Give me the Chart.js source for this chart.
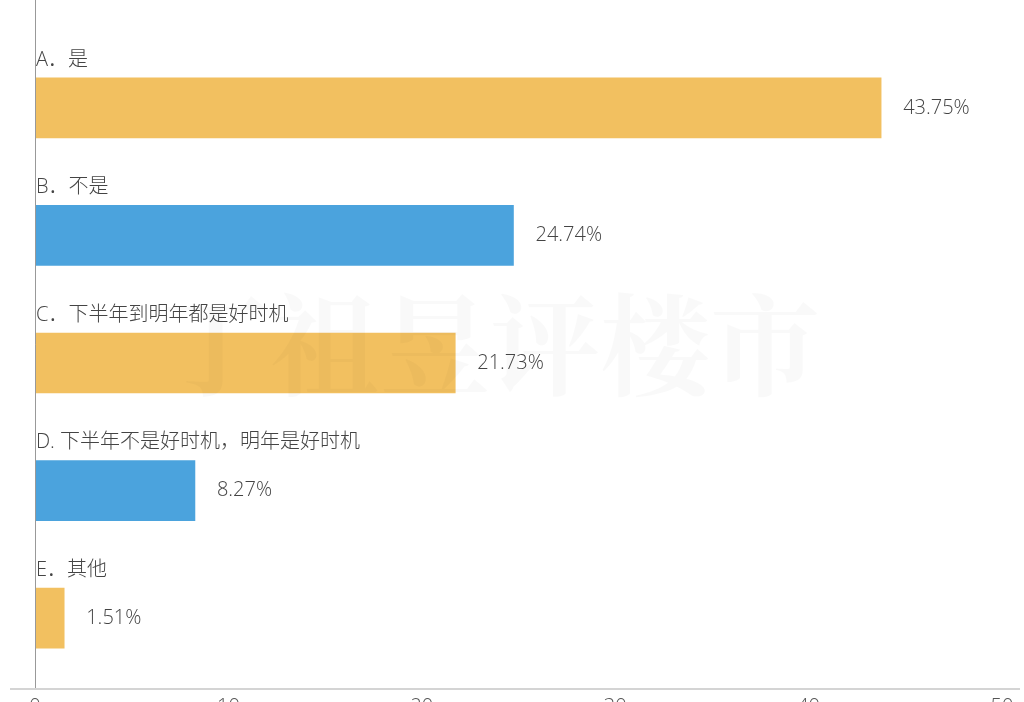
<!DOCTYPE html>
<html><head><meta charset="utf-8">
<script src="https://cdn.jsdelivr.net/npm/chart.js@4/dist/chart.umd.min.js"></script>
<style>html,body{margin:0;padding:0;background:#fff}#w{width:1024px;height:702px;position:relative}</style>
</head><body><div id="w"><canvas id="c"></canvas></div>
<script>
const categories = ["A．是","B．不是","C．下半年到明年都是好时机","D. 下半年不是好时机，明年是好时机","E．其他"];
const values = [43.75,24.74,21.73,8.27,1.51];
const valueLabels = ["43.75%","24.74%","21.73%","8.27%","1.51%"];
const colors = ["#F2C060","#4BA3DD","#F2C060","#4BA3DD","#F2C060"];
const xTicks = [0,10,20,30,40,50];

const font = '300 20px "Open Sans","Noto Sans CJK SC",sans-serif';
const overlay = {
  id:'overlay',
  afterDatasetsDraw(chart){
    const ctx = chart.ctx, ca = chart.chartArea, x = chart.scales.x;
    ctx.save();
    ctx.fillStyle='rgba(0,0,0,0.025)';
    ctx.font='bold 110px "Noto Serif CJK SC","Noto Sans CJK SC",serif';
    ctx.textBaseline='middle';ctx.textAlign='left';
    ctx.fillText('丁祖昱评楼市',160,345);
    ctx.strokeStyle='#999';ctx.lineWidth=1;
    ctx.beginPath();ctx.moveTo(ca.left+0.5,0);ctx.lineTo(ca.left+0.5,689);ctx.stroke();
    ctx.strokeStyle='#d4d4d4';ctx.lineWidth=2;
    ctx.beginPath();ctx.moveTo(10,689);ctx.lineTo(1020,689);ctx.stroke();
    const meta = chart.getDatasetMeta(0);
    ctx.fillStyle='#444';
    meta.data.forEach((bar,i)=>{
      ctx.font=font;ctx.textAlign='left';ctx.textBaseline='middle';
      ctx.fillText(categories[i], ca.left+1, bar.y-48);
      ctx.fillText(valueLabels[i], bar.x+22, bar.y);
    });
    ctx.fillStyle='#555';ctx.textAlign='center';ctx.textBaseline='top';ctx.font=font;
    xTicks.forEach(t=>ctx.fillText(String(t), x.getPixelForValue(t), 697));
    ctx.restore();
  }
};
new Chart(document.getElementById('c'),{
  type:'bar',
  data:{labels:categories,datasets:[{data:values,backgroundColor:colors,barThickness:60}]},
  options:{
    indexAxis:'y',responsive:true,maintainAspectRatio:false,animation:false,
    layout:{padding:{left:35,right:22,top:44,bottom:20}},
    plugins:{legend:{display:false},tooltip:{enabled:false}},
    scales:{x:{display:false,min:0,max:50},y:{display:false}}
  },
  plugins:[overlay]
});
</script></body></html>
